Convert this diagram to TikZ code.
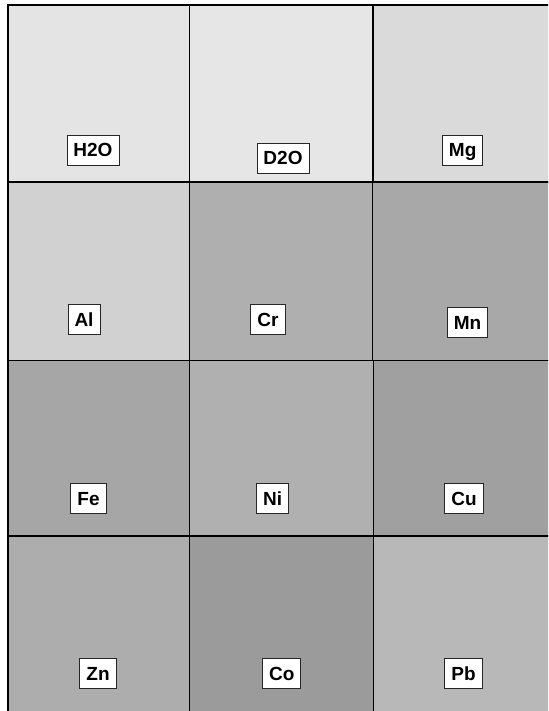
\documentclass[tikz,border=0pt]{standalone}
\usepackage{fontspec}
\setmainfont{Liberation Sans}
\usepackage{tikz}
\begin{document}
\begin{tikzpicture}[x=1pt,y=-1pt,
  cell/.style={draw=black,line width=1.1pt},
  tag/.style={draw=black!85,fill=white,line width=0.9pt,font=\bfseries\fontsize{19}{19}\selectfont,
    text height=14pt,text depth=0pt,inner xsep=6.5pt,inner ysep=8pt}]
\useasboundingbox (0,0) rectangle (548,711);
\clip (0,0) rectangle (548,711);
% cells
\draw[cell,fill={rgb,255:red,228;green,228;blue,228}] (8,5) rectangle (189.5,182);
\draw[cell,fill={rgb,255:red,230;green,230;blue,230}] (189.5,5) rectangle (373,182);
\draw[cell,fill={rgb,255:red,218;green,218;blue,218}] (373,5) rectangle (560,182);
\draw[cell,fill={rgb,255:red,209;green,209;blue,209}] (8,182) rectangle (189.5,360.5);
\draw[cell,fill={rgb,255:red,175;green,175;blue,175}] (189.5,182) rectangle (372.7,360.5);
\draw[cell,fill={rgb,255:red,168;green,168;blue,168}] (372.7,182) rectangle (560,360.5);
\draw[cell,fill={rgb,255:red,166;green,166;blue,166}] (8,360.5) rectangle (189.5,536);
\draw[cell,fill={rgb,255:red,176;green,176;blue,176}] (189.5,360.5) rectangle (373.3,536);
\draw[cell,fill={rgb,255:red,160;green,160;blue,160}] (373.3,360.5) rectangle (560,536);
\draw[cell,fill={rgb,255:red,173;green,173;blue,173}] (8,536) rectangle (189.5,720);
\draw[cell,fill={rgb,255:red,155;green,155;blue,155}] (189.5,536) rectangle (373.3,720);
\draw[cell,fill={rgb,255:red,184;green,184;blue,184}] (373.3,536) rectangle (560,720);
% labels
\node[tag] (h2o) at (93,150) {H2O}; \node[tag] (d2o) at (283,158) {D2O}; \node[tag] (mg) at (462.7,150) {Mg};
\node[tag] (al) at (84,319) {Al};   \node[tag] (cr) at (268,319) {Cr};   \node[tag] (mn) at (467.5,322) {Mn};
\node[tag] (fe) at (88.5,498) {Fe}; \node[tag] (ni) at (272.7,498) {Ni}; \node[tag] (cu) at (464,498) {Cu};
\node[tag] (zn) at (98,673) {Zn};   \node[tag] (co) at (281.7,673) {Co}; \node[tag] (pb) at (463.5,673) {Pb};
\end{tikzpicture}
\end{document}
